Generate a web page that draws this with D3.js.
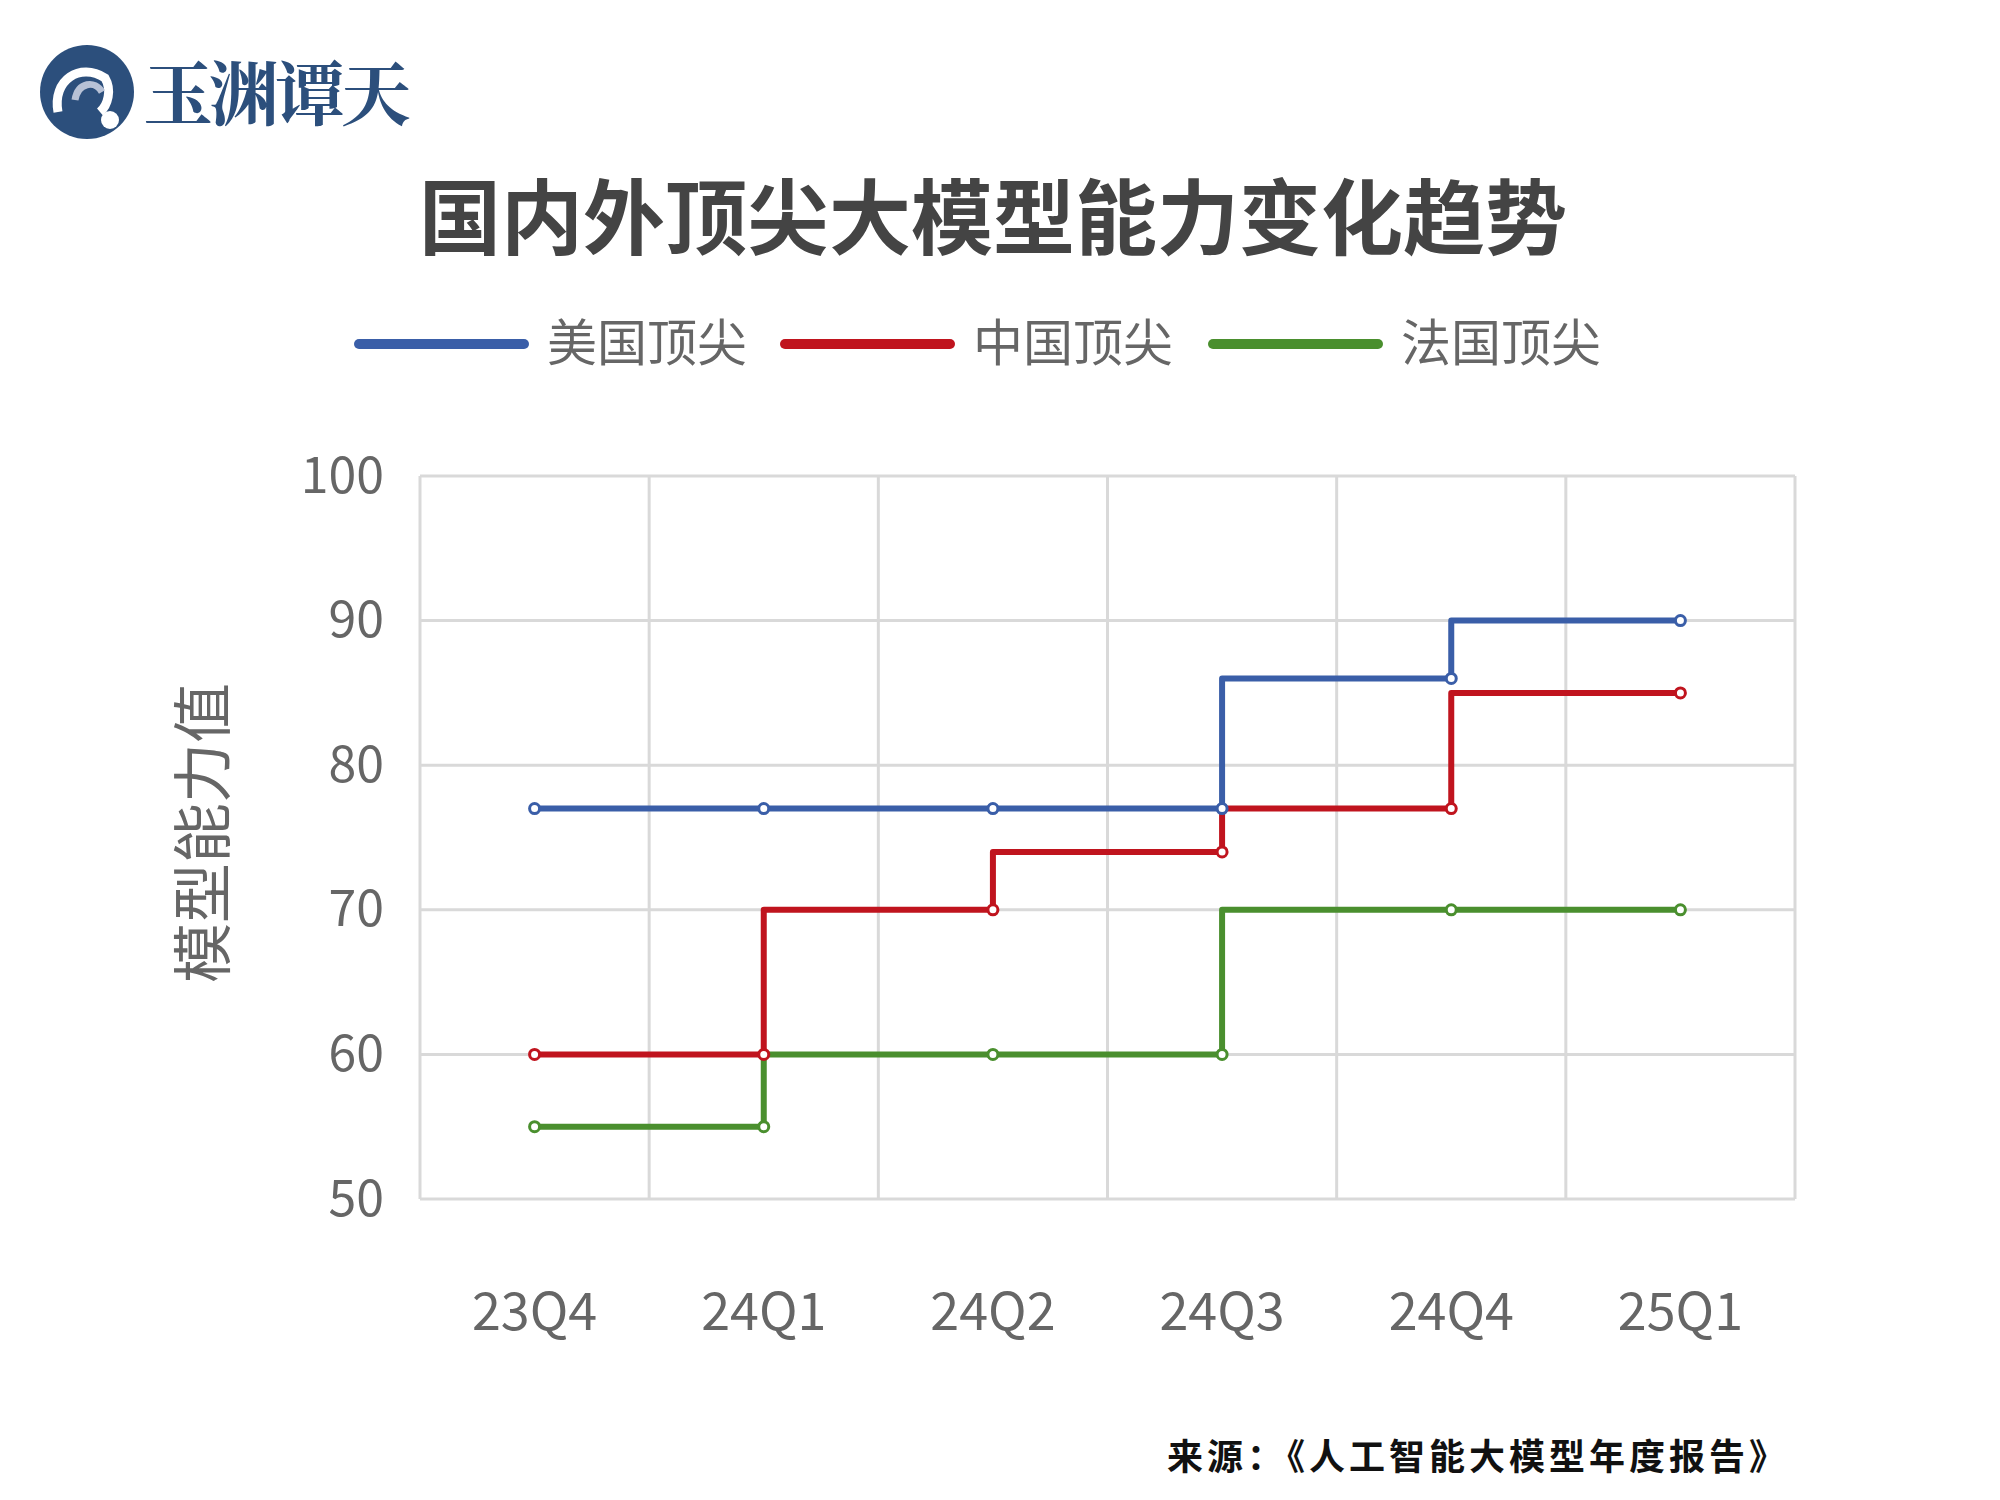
<!DOCTYPE html>
<html><head><meta charset="utf-8">
<script src="https://cdn.jsdelivr.net/npm/d3@7"></script>
<style>body{margin:0;background:#fff}svg{display:block}</style>
</head><body>
<script>
const categories = ["23Q4","24Q1","24Q2","24Q3","24Q4","25Q1"];
const seriesNames = ["美国顶尖","中国顶尖","法国顶尖"];
const usValues = [77,77,77,77,86,90];
const cnValues = [60,60,70,74,77,85];
const frValues = [55,55,60,60,70,70];
const yTicks = [50,60,70,80,90,100];
const colors = ["#3a5ea8","#c0141e","#4a8f2e"];
const series = [usValues, cnValues, frValues];

const W=2000,H=1500;
const svg=d3.select("body").append("svg").attr("width",W).attr("height",H);
const font="'Noto Sans CJK SC','Noto Sans',sans-serif";
const L=420,R=1805,T=476,B=1199;
const x=d3.scaleBand().domain(categories).range([L,R-10]);
const y=d3.scaleLinear().domain([50,100]).range([B,T]);

// logo
const lg=svg.append("g");
lg.append("circle").attr("cx",87).attr("cy",92).attr("r",47).attr("fill","#2c4f7c");
lg.append("path").attr("d","M58,112 C52,80 80,62 105,78 C112,90 108,105 100,112").attr("fill","none").attr("stroke","#fff").attr("stroke-width",9);
lg.append("path").attr("d","M75,100 C78,82 95,80 102,92").attr("fill","none").attr("stroke","#b8c2d6").attr("stroke-width",7);
lg.append("circle").attr("cx",110).attr("cy",120).attr("r",9).attr("fill","#fff");
lg.append("text").attr("x",143).attr("y",120).attr("font-family","'Noto Serif CJK SC','Noto Sans CJK SC',serif").attr("font-weight",700).attr("font-size",70).attr("fill","#2c4f7c").attr("letter-spacing",-4).text("玉渊谭天");

svg.append("text").attr("x",993).attr("y",248).attr("text-anchor","middle").attr("font-family",font).attr("font-weight",700).attr("font-size",82).attr("fill","#444").text("国内外顶尖大模型能力变化趋势");

// legend
const legX=[359,785,1213];
seriesNames.forEach((n,i)=>{
  svg.append("line").attr("x1",legX[i]).attr("x2",legX[i]+165).attr("y1",344).attr("y2",344).attr("stroke",colors[i]).attr("stroke-width",10).attr("stroke-linecap","round");
  svg.append("text").attr("x",legX[i]+188).attr("y",361).attr("font-family",font).attr("font-size",50).attr("fill","#666").text(n);
});

// grid
const g=svg.append("g");
yTicks.forEach(t=>g.append("line").attr("x1",L).attr("x2",R-10).attr("y1",y(t)).attr("y2",y(t)).attr("stroke","#d9d9d9").attr("stroke-width",3));
const bounds=categories.map(c=>x(c)).concat([R-10]);
bounds.forEach(b=>g.append("line").attr("x1",b).attr("x2",b).attr("y1",T).attr("y2",B).attr("stroke","#d9d9d9").attr("stroke-width",3));

// axes
const ya=svg.append("g").attr("transform",`translate(${L},0)`).call(d3.axisLeft(y).tickValues(yTicks).tickSize(0).tickPadding(36));
ya.select(".domain").remove();
ya.selectAll("text").attr("font-family",font).attr("font-size",50).attr("fill","#666");
const xa=svg.append("g").attr("transform",`translate(0,${B})`).call(d3.axisBottom(x).tickSize(0).tickPadding(94));
xa.select(".domain").remove();
xa.selectAll("text").attr("font-family",font).attr("font-size",52).attr("fill","#666");

svg.append("text").attr("transform","translate(225,833) rotate(-90)").attr("text-anchor","middle").attr("font-family",font).attr("font-size",60).attr("fill","#666").text("模型能力值");

// lines
const line=d3.line().x((d,i)=>x(categories[i])+x.bandwidth()/2).y(d=>y(d)).curve(d3.curveStepBefore);
series.forEach((s,k)=>{
  svg.append("path").datum(s).attr("d",line).attr("fill","none").attr("stroke",colors[k]).attr("stroke-width",6).attr("stroke-linejoin","round");
});
series.forEach((s,k)=>{
  svg.selectAll(null).data(s).enter().append("circle").attr("cx",(d,i)=>x(categories[i])+x.bandwidth()/2).attr("cy",d=>y(d)).attr("r",5).attr("fill","#fff").attr("stroke",colors[k]).attr("stroke-width",3);
});

svg.append("text").attr("x",1167).attr("y",1470).attr("font-family",font).attr("font-weight",700).attr("font-size",36).attr("fill","#111").attr("letter-spacing",4).text("来源：《人工智能大模型年度报告》");
</script>
</body></html>
